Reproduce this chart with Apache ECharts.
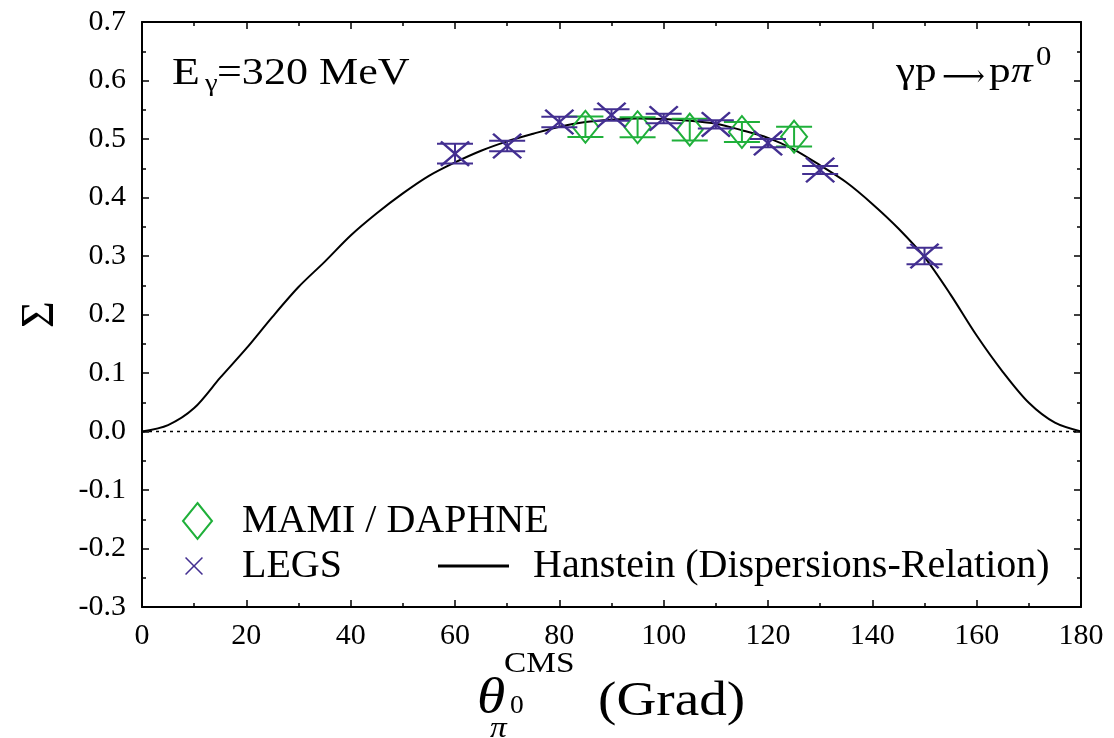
<!DOCTYPE html>
<html>
<head>
<meta charset="utf-8">
<script src="https://cdn.jsdelivr.net/npm/echarts@6/dist/echarts.min.js"></script>
<style>html,body{margin:0;padding:0;background:#fff;}#c{width:1114px;height:738px;}</style>
</head>
<body>
<div id="c"></div>
<script>
// ---- data ----
const curveTheta = [0, 5, 10, 15, 20, 25, 30, 35, 40, 45, 50, 55, 60, 65, 70, 75, 80, 85, 90, 95, 100, 105, 110, 115, 120, 125, 130, 135, 140, 145, 150, 155, 160, 165, 170, 175, 180];
const curveSigma = [0, 0.011, 0.040, 0.092, 0.142, 0.196, 0.247, 0.290, 0.335, 0.373, 0.407, 0.437, 0.460, 0.480, 0.496, 0.509, 0.521, 0.529, 0.533, 0.535, 0.534, 0.531, 0.526, 0.515, 0.502, 0.482, 0.455, 0.426, 0.389, 0.347, 0.298, 0.234, 0.164, 0.102, 0.049, 0.015, 0];

const legsTheta = [60, 70, 80, 90, 100, 110, 120, 130, 150];
const legsSigma = [0.475, 0.488, 0.529, 0.541, 0.535, 0.525, 0.493, 0.447, 0.300];
const legsErr   = [0.017, 0.009, 0.009, 0.010, 0.008, 0.007, 0.007, 0.007, 0.014];

const mamiTheta = [85, 95, 105, 115, 125];
const mamiSigma = [0.521, 0.520, 0.516, 0.512, 0.504];
const mamiErr   = [0.0175, 0.017, 0.0185, 0.017, 0.017];

const xRange = {min: 0, max: 180, interval: 20};
const yRange = {min: -0.3, max: 0.7, interval: 0.1};

const seriesNames = ['MAMI / DAPHNE', 'LEGS', 'Hanstein (Dispersions-Relation)'];
// ---------------------------------------

const PURPLE = '#432f91';
const GREEN = '#1fb03a';
const FONT = '"Liberation Serif", "Times New Roman", serif';
const X_PATH = 'path://M0,6L6,0L50,44L94,0L100,6L56,50L100,94L94,100L50,56L6,100L0,94L44,50Z';

const zip3 = (a, b, c) => a.map((v, i) => [v, b[i], c[i]]);
const zip2 = (a, b) => a.map((v, i) => [v, b[i]]);

function errRender(color) {
  return function (params, api) {
    const x = api.value(0), y = api.value(1), e = api.value(2);
    const t = api.coord([x, y + e]);
    const b = api.coord([x, y - e]);
    const hw = 18;
    const st = {stroke: color, lineWidth: 2};
    return {type: 'group', children: [
      {type: 'line', shape: {x1: t[0], y1: t[1], x2: b[0], y2: b[1]}, style: st},
      {type: 'line', shape: {x1: t[0] - hw, y1: t[1], x2: t[0] + hw, y2: t[1]}, style: st},
      {type: 'line', shape: {x1: b[0] - hw, y1: b[1], x2: b[0] + hw, y2: b[1]}, style: st}
    ]};
  };
}

const axisCommon = {
  axisLine: {show: true, onZero: false, lineStyle: {color: '#000', width: 2}},
  axisTick: {show: true, inside: true, length: 7, lineStyle: {color: '#000', width: 1.5}},
  minorTick: {show: true, splitNumber: 2, length: 4, lineStyle: {color: '#000', width: 1.5}},
  splitLine: {show: false}
};

const chart = echarts.init(document.getElementById('c'));
chart.setOption({
  animation: false,
  backgroundColor: '#fff',
  grid: {left: 142, right: 33, top: 22, bottom: 131, containLabel: false},
  xAxis: [
    Object.assign({}, axisCommon, {
      type: 'value', position: 'bottom', min: xRange.min, max: xRange.max, interval: xRange.interval,
      axisLabel: {color: '#000', fontFamily: FONT, fontSize: 30, margin: 14}
    }),
    Object.assign({}, axisCommon, {
      type: 'value', position: 'top', min: xRange.min, max: xRange.max, interval: xRange.interval,
      axisLabel: {show: false}
    })
  ],
  yAxis: [
    Object.assign({}, axisCommon, {
      type: 'value', position: 'left', min: yRange.min, max: yRange.max, interval: yRange.interval,
      name: 'Σ', nameLocation: 'middle', nameGap: 78,
      nameTextStyle: {color: '#000', fontFamily: FONT, fontSize: 46},
      axisLabel: {color: '#000', fontFamily: FONT, fontSize: 30, margin: 16,
        formatter: v => v.toFixed(1)}
    }),
    Object.assign({}, axisCommon, {
      type: 'value', position: 'right', min: yRange.min, max: yRange.max, interval: yRange.interval,
      axisLabel: {show: false}
    })
  ],
  legend: [
    {
      left: 182, top: 501, padding: 0, orient: 'horizontal',
      itemWidth: 29, itemHeight: 36,
      textStyle: {color: '#000', fontFamily: FONT, fontSize: 40, lineHeight: 40, padding: [0, 0, 0, 25]},
      data: [{name: seriesNames[0], icon: 'diamond',
        itemStyle: {color: 'rgba(0,0,0,0)', borderColor: GREEN, borderWidth: 2}}],
      selectedMode: false
    },
    {
      left: 185, top: 546, padding: 0,
      itemWidth: 18, itemHeight: 18,
      textStyle: {color: '#000', fontFamily: FONT, fontSize: 40, lineHeight: 40, padding: [0, 0, 0, 34]},
      data: [{name: seriesNames[1], icon: X_PATH, itemStyle: {color: PURPLE}}],
      selectedMode: false
    },
    {
      left: 438, top: 546, padding: 0,
      itemWidth: 71, itemHeight: 3,
      textStyle: {color: '#000', fontFamily: FONT, fontSize: 40, lineHeight: 40, padding: [0, 0, 0, 19]},
      data: [{name: seriesNames[2], icon: 'rect', itemStyle: {color: '#000'}}],
      selectedMode: false
    }
  ],
  graphic: [
    {type: 'text', x: 172, y: 74.5, scaleX: 1.2, style: {text: 'E', fontFamily: FONT, fontSize: 38, fill: '#000', align: 'left', verticalAlign: 'middle'}},
    {type: 'text', x: 205, y: 84, scaleX: 1.1, style: {text: 'γ', fontFamily: FONT, fontSize: 26, fill: '#000', align: 'left', verticalAlign: 'middle'}},
    {type: 'text', x: 217, y: 74.5, scaleX: 1.16, style: {text: '=320 MeV', fontFamily: FONT, fontSize: 38, fill: '#000', align: 'left', verticalAlign: 'middle'}},

    {type: 'text', x: 896, y: 73, scaleX: 1.2, style: {text: 'γp', fontFamily: FONT, fontSize: 36, fill: '#000', align: 'left', verticalAlign: 'middle'}},
    {type: 'text', x: 942, y: 78, scaleX: 1.0, style: {text: '⟶', fontFamily: '"DejaVu Serif", serif', fontSize: 30, fill: '#000', align: 'left', verticalAlign: 'middle'}},
    {type: 'text', x: 989, y: 73, scaleX: 1.2, style: {text: 'p', fontFamily: FONT, fontSize: 36, fill: '#000', align: 'left', verticalAlign: 'middle'}},
    {type: 'text', x: 1011, y: 73, scaleX: 1.2, style: {text: 'π', fontFamily: FONT, fontStyle: 'italic', fontSize: 36, fill: '#000', align: 'left', verticalAlign: 'middle'}},
    {type: 'text', x: 1036, y: 58, scaleX: 1.1, style: {text: '0', fontFamily: FONT, fontSize: 28, fill: '#000', align: 'left', verticalAlign: 'middle'}},

    {type: 'text', x: 477, y: 700, scaleX: 1.15, style: {text: 'θ', fontFamily: FONT, fontStyle: 'italic', fontSize: 50, fill: '#000', align: 'left', verticalAlign: 'middle'}},
    {type: 'text', x: 504, y: 664, scaleX: 1.15, style: {text: 'CMS', fontFamily: FONT, fontSize: 29, fill: '#000', align: 'left', verticalAlign: 'middle'}},
    {type: 'text', x: 490, y: 729, scaleX: 1.15, style: {text: 'π', fontFamily: FONT, fontStyle: 'italic', fontSize: 29, fill: '#000', align: 'left', verticalAlign: 'middle'}},
    {type: 'text', x: 510, y: 706, scaleX: 1.1, style: {text: '0', fontFamily: FONT, fontSize: 25, fill: '#000', align: 'left', verticalAlign: 'middle'}},
    {type: 'text', x: 598, y: 702, scaleX: 1.15, style: {text: '(Grad)', fontFamily: FONT, fontSize: 48, fill: '#000', align: 'left', verticalAlign: 'middle'}}
  ],
  series: [
    {
      name: 'zero', type: 'line', xAxisIndex: 0, yAxisIndex: 0, showSymbol: false, silent: true,
      data: [[xRange.min, 0], [xRange.max, 0]],
      lineStyle: {color: '#000', width: 1.5, type: [3, 4]}, z: 1
    },
    {
      name: seriesNames[2], type: 'line', smooth: 0.3, showSymbol: false, symbol: 'none',
      data: zip2(curveTheta, curveSigma),
      lineStyle: {color: '#000', width: 2}, itemStyle: {color: '#000'}, z: 2
    },
    {
      name: 'mami-err', type: 'custom', renderItem: errRender(GREEN),
      data: zip3(mamiTheta, mamiSigma, mamiErr), encode: {x: 0, y: 1}, z: 3
    },
    {
      name: seriesNames[0], type: 'scatter', symbol: 'diamond', symbolSize: [26, 32],
      data: zip2(mamiTheta, mamiSigma),
      itemStyle: {color: 'rgba(0,0,0,0)', borderColor: GREEN, borderWidth: 2, opacity: 1}, z: 4
    },
    {
      name: 'legs-err', type: 'custom', renderItem: errRender(PURPLE),
      data: zip3(legsTheta, legsSigma, legsErr), encode: {x: 0, y: 1}, z: 5
    },
    {
      name: seriesNames[1], type: 'scatter', symbol: X_PATH, symbolSize: [30, 26],
      data: zip2(legsTheta, legsSigma),
      itemStyle: {color: PURPLE, opacity: 1}, z: 6
    }
  ]
});
</script>
</body>
</html>
